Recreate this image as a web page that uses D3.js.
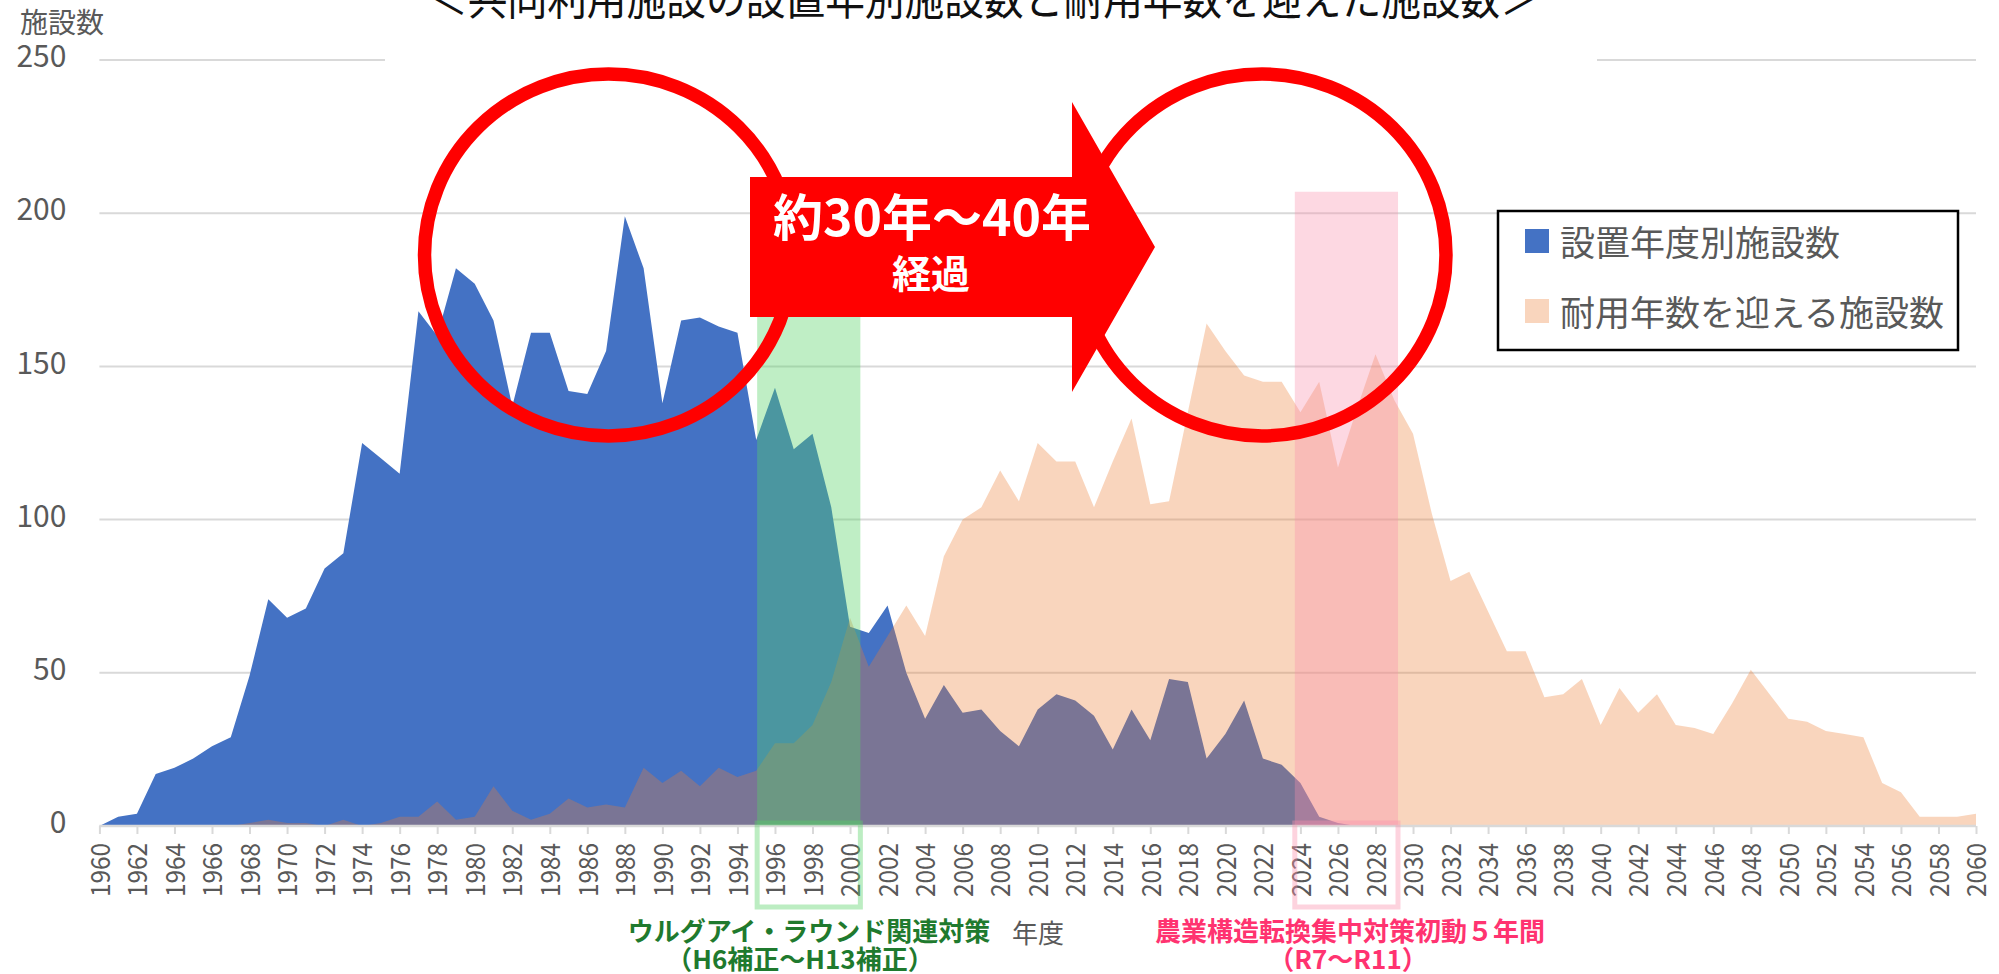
<!DOCTYPE html>
<html>
<head>
<meta charset="utf-8">
<script src="https://cdn.jsdelivr.net/npm/d3@7"></script>
<style>
body{margin:0;padding:0;background:#fff;}
text{font-family:"Noto Sans CJK JP","Noto Sans",sans-serif;}
</style>
</head>
<body>
<div id="chart"></div>
<script>
// years on the category axis
var years = d3.range(1960, 2061);
var xTickYears = d3.range(1960, 2061, 2);
var yTicks = [0, 50, 100, 150, 200, 250];

// 設置年度別施設数 (1960 - 2027)
var builtCounts = [0, 3, 4, 17, 19, 22, 26, 29, 49, 74,
  68, 71, 84, 89, 125, 120, 115, 168, 160, 182,
  177, 165, 137, 161, 161, 142, 141, 155, 199, 182,
  138, 165, 166, 163, 161, 126, 143, 123, 128, 104,
  65, 63, 72, 50, 35, 46, 37, 38, 31, 26,
  38, 43, 41, 36, 25, 38, 28, 48, 47, 22,
  30, 41, 22, 20, 14, 3, 1, 0];

// 耐用年数を迎える施設数 (1960 - 2060)
var lifeCounts = [0, 0, 0, 0, 0, 0, 0, 0, 1, 2,
  1, 1, 0, 2, 0, 1, 3, 3, 8, 2,
  3, 13, 5, 2, 4, 9, 6, 7, 6, 19,
  14, 18, 13, 19, 16, 18, 27, 27, 33, 47,
  68, 52, 62, 72, 62, 88, 100, 104, 116, 106,
  125, 119, 119, 104, 119, 133, 105, 106, 135, 164,
  155, 147, 145, 145, 135, 145, 117, 136, 154, 139,
  128, 102, 80, 83, 70, 57, 57, 42, 43, 48,
  33, 45, 37, 43, 33, 32, 30, 40, 51, 43,
  35, 34, 31, 30, 29, 14, 11, 3, 3, 3, 4];

var seriesNames = ["設置年度別施設数", "耐用年数を迎える施設数"];
var seriesColors = ["#4472C4", "#ED7D31"];

// highlighted periods (years)
var bandFrom = [1995.05, 2023.7];
var bandTo = [2000.55, 2029.2];
var bandColors = ["rgb(88,210,102)", "rgb(249,144,172)"];
var bandTop = 207;

var W = 1999, H = 974;
var svg = d3.select("#chart").append("svg")
  .attr("width", W).attr("height", H);

var x = d3.scaleLinear().domain([1960, 2060]).range([99.4, 1976]);
var y = d3.scaleLinear().domain([0, 250]).range([826, 60]);

var builtData = builtCounts.map(function(v, i){ return {year: years[i], v: v}; });
var lifeData = lifeCounts.map(function(v, i){ return {year: years[i], v: v}; });

// gridlines
svg.append("g").selectAll("line.grid")
  .data(yTicks.slice(1))
  .enter().append("line")
  .attr("x1", x(1960)).attr("x2", x(2060))
  .attr("y1", function(d){ return y(d); })
  .attr("y2", function(d){ return y(d); })
  .attr("stroke", "#d9d9d9")
  .attr("stroke-width", 2);

var area = d3.area()
  .x(function(d){ return x(d.year); })
  .y0(y(0))
  .y1(function(d){ return y(d.v); });

svg.append("path").datum(builtData)
  .attr("d", area)
  .attr("fill", seriesColors[0]);

svg.append("path").datum(lifeData)
  .attr("d", area)
  .attr("fill", seriesColors[1])
  .attr("fill-opacity", 0.32);

// bands
svg.selectAll("rect.band")
  .data(bandFrom)
  .enter().append("rect")
  .attr("x", function(d){ return x(d); })
  .attr("width", function(d, i){ return x(bandTo[i]) - x(d); })
  .attr("y", y(bandTop))
  .attr("height", y(0) - y(bandTop))
  .attr("fill", function(d, i){ return bandColors[i]; })
  .attr("fill-opacity", function(d, i){ return i == 0 ? 0.38 : 0.35; });

// x axis
svg.append("line")
  .attr("x1", x(1960)).attr("x2", x(2060))
  .attr("y1", y(0)).attr("y2", y(0))
  .attr("stroke", "#d9d9d9").attr("stroke-width", 2.5);

var xAxis = svg.append("g")
  .attr("transform", "translate(0," + y(0) + ")")
  .call(d3.axisBottom(x).tickValues(xTickYears).tickSize(8).tickFormat(d3.format("d")));
xAxis.select(".domain").remove();
xAxis.selectAll(".tick line").attr("stroke", "#d9d9d9").attr("stroke-width", 2);
xAxis.selectAll(".tick text")
  .attr("transform", "rotate(-90)")
  .attr("x", -17).attr("y", 0).attr("dy", "0.36em")
  .attr("text-anchor", "end")
  .attr("font-size", 27)
  .attr("textLength", 54)
  .attr("lengthAdjust", "spacingAndGlyphs")
  .attr("fill", "#595959");

// y axis labels
var yAxis = svg.append("g")
  .attr("transform", "translate(" + x(1960) + ",0)")
  .call(d3.axisLeft(y).tickValues(yTicks).tickSize(0).tickPadding(33));
yAxis.select(".domain").remove();
yAxis.selectAll(".tick text")
  .attr("font-size", 30)
  .attr("dy", "0.22em")
  .attr("fill", "#595959");

svg.append("text")
  .attr("x", 62).attr("y", 21)
  .attr("dominant-baseline", "central")
  .attr("text-anchor", "middle")
  .attr("font-size", 28)
  .attr("fill", "#595959")
  .text("施設数");

// outlined boxes round the tick labels of each band
svg.selectAll("rect.bandbox")
  .data(bandFrom)
  .enter().append("rect")
  .attr("x", function(d){ return x(d); })
  .attr("width", function(d, i){ return x(bandTo[i]) - x(d); })
  .attr("y", 823)
  .attr("height", 84)
  .attr("fill", "none")
  .attr("stroke", function(d, i){ return bandColors[i]; })
  .attr("stroke-opacity", 0.4)
  .attr("stroke-width", 5);

// red circles
[608.5, 1262].forEach(function(cx){
  svg.append("ellipse")
    .attr("cx", cx).attr("cy", 255)
    .attr("rx", 184).attr("ry", 181)
    .attr("fill", "none")
    .attr("stroke", "#ff0000")
    .attr("stroke-width", 13.5);
});

// arrow
svg.append("polygon")
  .attr("points", "750,177 1072,177 1072,102 1155,247 1072,392 1072,317 750,317")
  .attr("fill", "#ff0000");
svg.append("text")
  .attr("x", 932).attr("y", 214)
  .attr("dominant-baseline", "central")
  .attr("text-anchor", "middle")
  .attr("font-size", 50).attr("font-weight", "bold")
  .attr("fill", "#fff")
  .text("約30年～40年");
svg.append("text")
  .attr("x", 931).attr("y", 271)
  .attr("dominant-baseline", "central")
  .attr("text-anchor", "middle")
  .attr("font-size", 39).attr("font-weight", "bold")
  .attr("fill", "#fff")
  .text("経過");

// legend
var lg = svg.append("g");
lg.append("rect")
  .attr("x", 1498).attr("y", 211).attr("width", 460).attr("height", 139)
  .attr("fill", "#fff").attr("stroke", "#000").attr("stroke-width", 2.5);
seriesNames.forEach(function(name, i){
  lg.append("rect")
    .attr("x", 1525).attr("y", 229 + i * 70).attr("width", 24).attr("height", 24)
    .attr("fill", seriesColors[i])
    .attr("fill-opacity", i == 0 ? 1 : 0.32);
  lg.append("text")
    .attr("x", 1560).attr("y", 240 + i * 70)
    .attr("dominant-baseline", "central")
    .attr("font-size", 35)
    .attr("fill", "#595959")
    .text(name);
});

// title box
svg.append("rect")
  .attr("x", 385).attr("y", 0).attr("width", 1212).attr("height", 63)
  .attr("fill", "#fff");
svg.append("text")
  .attr("x", 984).attr("y", 15)
  .attr("text-anchor", "middle")
  .attr("font-size", 44)
  .attr("textLength", 1112)
  .attr("lengthAdjust", "spacingAndGlyphs")
  .attr("fill", "#111")
  .text("＜共同利用施設の設置年別施設数と耐用年数を迎えた施設数＞");

// notes under the axis
var notes = [
  {t: "ウルグアイ・ラウンド関連対策", x: 809, y: 929, c: "#1f7a2e", b: true},
  {t: "（H6補正～H13補正）", x: 800, y: 957, c: "#1f7a2e", b: true},
  {t: "年度", x: 1038, y: 931, c: "#595959", b: false},
  {t: "農業構造転換集中対策初動５年間", x: 1350, y: 929, c: "#ff3370", b: true},
  {t: "（R7～R11）", x: 1348, y: 957, c: "#ff3370", b: true}
];
svg.selectAll("text.note")
  .data(notes)
  .enter().append("text")
  .attr("x", function(d){ return d.x; })
  .attr("y", function(d){ return d.y; })
  .attr("dominant-baseline", "central")
  .attr("text-anchor", "middle")
  .attr("font-size", 26)
  .attr("font-weight", function(d){ return d.b ? "bold" : "normal"; })
  .attr("fill", function(d){ return d.c; })
  .text(function(d){ return d.t; });
</script>
</body>
</html>
